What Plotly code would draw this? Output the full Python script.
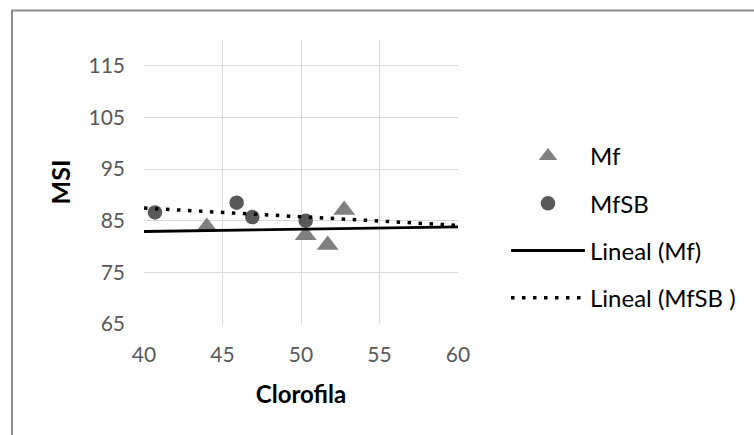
import numpy as np
import plotly.graph_objects as go

# Data
mf_x = [44.0, 50.3, 51.7, 52.75]
mf_y = [83.8, 82.2, 80.3, 87.1]
mfsb_x = [40.7, 45.9, 46.9, 50.3]
mfsb_y = [86.6, 88.5, 85.7, 85.0]
x_ticks = [40, 45, 50, 55, 60]
y_ticks = [65, 75, 85, 95, 105, 115]
x_range = [40, 60]
y_range = [65, 120]

FONT = "Lato"
W, H = 754, 435
L, R, T, B = 144, 296, 40, 111

def trend(xs, ys):
    k, b = np.polyfit(xs, ys, 1)
    xx = np.array(x_range, dtype=float)
    return xx, k * xx + b

fig = go.Figure()
fig.add_trace(go.Scatter(
    x=mf_x, y=mf_y, mode="markers", name="Mf", legendgroup="a",
    marker=dict(symbol="triangle-up", size=19, color="#808080"),
))
fig.add_trace(go.Scatter(
    x=mfsb_x, y=mfsb_y, mode="markers", name="MfSB", legendgroup="b",
    marker=dict(symbol="circle", size=14.5, color="#595959"),
))
tx, ty = trend(mf_x, mf_y)
fig.add_trace(go.Scatter(
    x=tx, y=ty, mode="lines", name="Lineal (Mf)", legendgroup="c",
    line=dict(color="black", width=2.8),
))
tx2, ty2 = trend(mfsb_x, mfsb_y)
fig.add_trace(go.Scatter(
    x=tx2, y=ty2, mode="lines", name="Lineal (MfSB )", legendgroup="d",
    line=dict(color="black", width=3.5, dash="3.5px,7.5px"),
))

pw = W - L - R
ph = H - T - B
fig.add_shape(type="rect", xref="paper", yref="paper",
              x0=(12 - L) / pw, x1=(W + 20 - L) / pw,
              y0=(H - B - (H + 20)) / ph, y1=(H - B - 10.5) / ph,
              line=dict(color="#8c8c8c", width=2), fillcolor="rgba(0,0,0,0)",
              layer="below")

fig.update_layout(
    width=W, height=H,
    margin=dict(l=L, r=R, t=T, b=B),
    paper_bgcolor="white", plot_bgcolor="white",
    font=dict(family=FONT, color="#595959", size=21),
    showlegend=True,
    legend=dict(
        x=(506 - L) / pw, xanchor="left",
        y=(H - B - 134) / ph, yanchor="top",
        font=dict(family=FONT, size=24, color="black"),
        tracegroupgap=13, traceorder="grouped", itemwidth=74,
        bgcolor="rgba(0,0,0,0)",
    ),
    xaxis=dict(
        range=x_range, tickvals=x_ticks, showgrid=True, gridcolor="#d9d9d9",
        gridwidth=1.3, zeroline=False, showline=False, ticks="",
        ticklabelstandoff=16,
        title=dict(text="<b>Clorofila</b>", font=dict(family=FONT, size=24, color="black"),
                   standoff=21),
    ),
    yaxis=dict(
        range=y_range, tickvals=y_ticks, showgrid=True, gridcolor="#d9d9d9",
        gridwidth=1.3, zeroline=False, showline=False, ticks="",
        ticklabelstandoff=18,
        title=dict(text="<b>MSI</b>", font=dict(family=FONT, size=25, color="black"),
                   standoff=10),
    ),
)

fig.write_html("out.html", config={"displayModeBar": False},
               post_script="document.body.style.margin='0';")
